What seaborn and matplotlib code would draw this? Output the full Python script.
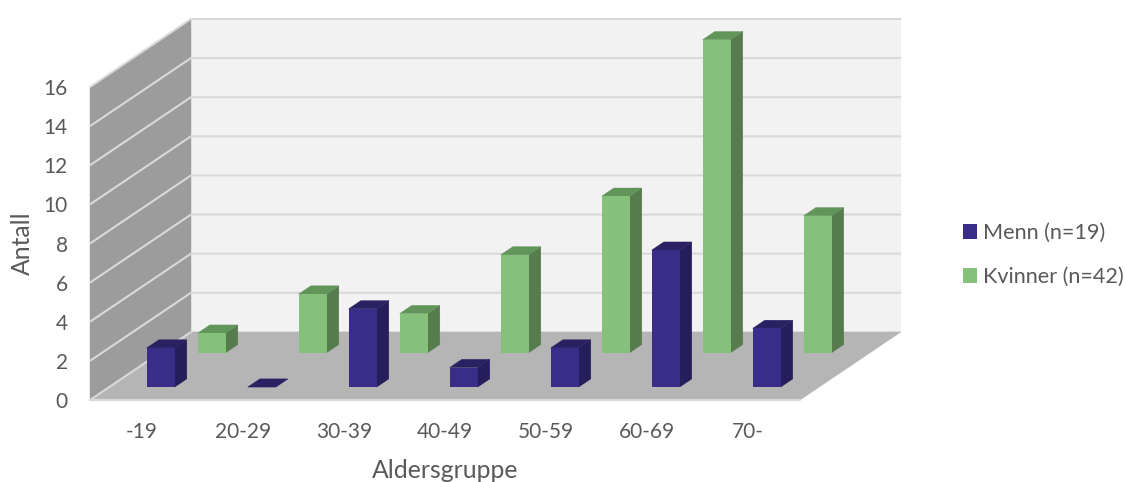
import pandas as pd
import matplotlib.pyplot as plt
import seaborn as sns
from matplotlib.patches import Polygon

# Values
age_groups = ["-19", "20-29", "30-39", "40-49", "50-59", "60-69", "70-"]
men = [2, 0, 4, 1, 2, 7, 3]
women = [1, 3, 2, 5, 8, 16, 7]
men_label = "Menn (n=19)"
women_label = "Kvinner (n=42)"

TEXT = "#595959"
GRID = "#D9D9D9"

# Oblique projection: going one full depth back moves a point by this much
DEPTH_X = 1.0
DEPTH_Y = 3.48
BAR_DEPTH = 0.12

series_depth = {men_label: 0.19, women_label: 0.695}
# front, side, top
series_colors = {
    men_label: ("#3A2D87", "#261E5A", "#2A2163"),
    women_label: ("#85C17A", "#567C4E", "#62955A"),
}

df = pd.DataFrame({
    "Aldersgruppe": age_groups * 2,
    "Antall": men + women,
    "Kjonn": [men_label] * len(men) + [women_label] * len(women),
})

sns.set_theme(style="white")
plt.rcParams["font.family"] = ["Lato", "DejaVu Sans"]

fig = plt.figure(figsize=(11.26, 4.82), dpi=100)
ax = fig.add_axes([90 / 1126, 82 / 482, 710 / 1126, 313 / 482])

sns.barplot(
    data=df,
    x="Aldersgruppe",
    y="Antall",
    hue="Kjonn",
    hue_order=[men_label, women_label],
    palette={k: v[0] for k, v in series_colors.items()},
    dodge=False,
    width=28 / 101,
    saturation=1,
    linewidth=0,
    errorbar=None,
    ax=ax,
)

x0, x1 = -0.515, 6.515
y_max = 16
ax.set_xlim(x0, x1)
ax.set_ylim(0, y_max)
ax.patch.set_visible(False)
sns.despine(ax=ax, left=True, bottom=True)


def add_face(points, color, z):
    ax.add_patch(Polygon(points, closed=True, facecolor=color, edgecolor=color,
                         linewidth=0.3, clip_on=False, zorder=z))


# Walls and floor
add_face([(x0 + DEPTH_X, DEPTH_Y), (x1 + DEPTH_X, DEPTH_Y),
          (x1 + DEPTH_X, y_max + DEPTH_Y), (x0 + DEPTH_X, y_max + DEPTH_Y)], "#F2F2F2", 0.1)
add_face([(x0, 0), (x0 + DEPTH_X, DEPTH_Y),
          (x0 + DEPTH_X, y_max + DEPTH_Y), (x0, y_max)], "#9C9C9C", 0.1)
add_face([(x0, 0), (x1, 0), (x1 + DEPTH_X, DEPTH_Y), (x0 + DEPTH_X, DEPTH_Y)], "#B5B5B5", 0.2)

# Gridlines run along the side wall and the back wall
for v in range(0, y_max + 1, 2):
    if v > 0:
        ax.plot([x0, x0 + DEPTH_X, x1 + DEPTH_X],
                [v, v + DEPTH_Y, v + DEPTH_Y],
                color=GRID, lw=1.5, clip_on=False, zorder=0.5, solid_capstyle="butt")
ax.plot([x0, x1], [0, 0], color=GRID, lw=1.5, clip_on=False, zorder=0.5)
ax.plot([x0, x0 + DEPTH_X], [0, DEPTH_Y], color=GRID, lw=1.5, clip_on=False, zorder=0.5)

# Turn the flat seaborn bars into boxes standing on the floor
for container, name in zip(ax.containers, [men_label, women_label]):
    d = series_depth[name]
    front, side, top = series_colors[name]
    z = 3 if name == men_label else 2
    for bar in container:
        left = bar.get_x() + d * DEPTH_X - 0.005
        base = d * DEPTH_Y
        h = bar.get_height()
        w = bar.get_width()
        bar.set_x(left)
        bar.set_y(base)
        bar.set_zorder(z + 0.2)
        bar.set_clip_on(False)
        dx = BAR_DEPTH * DEPTH_X
        dy = BAR_DEPTH * DEPTH_Y
        add_face([(left + w, base), (left + w + dx, base + dy),
                  (left + w + dx, base + h + dy), (left + w, base + h)], side, z)
        add_face([(left, base + h), (left + w, base + h),
                  (left + w + dx, base + h + dy), (left + dx, base + h + dy)], top, z)

ax.set_yticks(range(0, y_max + 1, 2))
ax.tick_params(axis="both", length=0, labelsize=15, labelcolor=TEXT)
ax.tick_params(axis="x", pad=16)
ax.tick_params(axis="y", pad=16)
ax.set_xlabel("Aldersgruppe", fontsize=17.8, color=TEXT)
ax.set_ylabel("Antall", fontsize=17.8, color=TEXT)
ax.xaxis.set_label_coords((445 - 90) / 710, -(471 - 400) / 313, transform=ax.transAxes)
ax.xaxis.label.set_verticalalignment("center")
ax.yaxis.set_label_coords(-(90 - 22) / 710, 0.5, transform=ax.transAxes)
ax.yaxis.label.set_verticalalignment("center")

sns.move_legend(
    ax,
    loc="center left",
    bbox_to_anchor=(963 / 1126, 1 - 255 / 482),
    bbox_transform=fig.transFigure,
    title=None,
    frameon=False,
    fontsize=15.6,
    handlelength=0.65,
    handleheight=0.65,
    handletextpad=0.28,
    labelspacing=1.1,
    borderpad=0,
    borderaxespad=0,
    labelcolor=TEXT,
)

plt.savefig("out.png", dpi=100)
plt.close()
